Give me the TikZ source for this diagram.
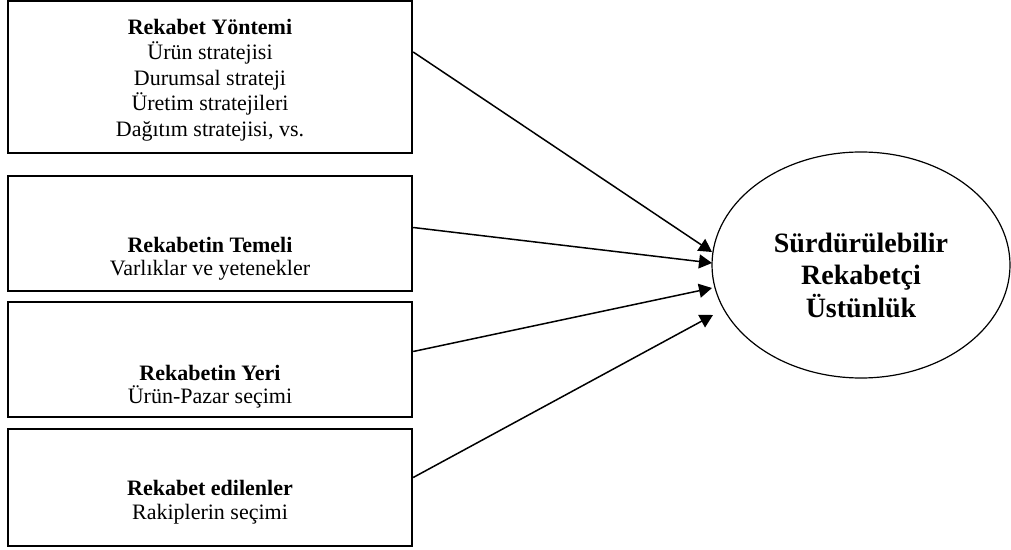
\documentclass[tikz,border=0pt]{standalone}
\usepackage{fontspec}
\setmainfont{Liberation Serif}
\usetikzlibrary{arrows.meta,shapes.geometric}

\begin{document}
\begin{tikzpicture}[x=0.5pt,y=-0.5pt,kutu/.style={draw,line width=1.2pt,rectangle,minimum
					width=202pt,inner sep=0pt},yazi/.style={align=center,inner
					sep=0pt,font=\fontsize{11}{12.75}\selectfont},hedef/.style={draw,line
					width=0.6pt,ellipse,minimum width=149pt,minimum height=113pt,inner
					sep=0pt},ok/.style={line width=0.75pt,-{Triangle[length=6.5pt,width=7pt]}}]
		\useasboundingbox (0,0) rectangle (1011,550);
		\node[kutu,minimum height=76pt] (k1) at (210,77) {};
		\node[kutu,minimum height=57.5pt] (k2) at (210,233.5) {};
		\node[kutu,minimum height=57.5pt] (k3) at (210,359.5) {};
		\node[kutu,minimum height=58.5pt] (k4) at (210,487.5) {};
		\node[yazi] (y1) at ([yshift=-1.5pt]k1.center) {\textbf{Rekabet Yöntemi}\\Ürün stratejisi\\Durumsal strateji\\Üretim
			stratejileri\\Dağıtım stratejisi, vs.};
		\node[yazi] (y2) at ([yshift=-12.5pt]k2.center) {\textbf{Rekabetin Temeli}\\[-1pt]Varlıklar ve yetenekler};
		\node[yazi] (y3) at ([yshift=-13.5pt]k3.center) {\textbf{Rekabetin Yeri}\\[-1pt]Ürün-Pazar seçimi};
		\node[yazi] (y4) at ([yshift=-7.25pt]k4.center) {\textbf{Rekabet edilenler}\\[-1pt]Rakiplerin seçimi};
		\node[hedef] (hd) at (861,265) {};
		\node[yazi,font=\fontsize{14}{16.25}\selectfont\bfseries] (hy) at ([yshift=-5pt]hd.center)
		{Sürdürülebilir\\Rekabetçi\\Üstünlük};
		\coordinate (u1) at (712,252);
		\coordinate (u2) at (712,263);
		\coordinate (u3) at (712,288);
		\coordinate (u4) at (713,315);
		\draw[ok] ([yshift=12.5pt]k1.east) -- (u1);
		\draw[ok] ([yshift=3pt]k2.east) -- (u2);
		\draw[ok] ([yshift=4pt]k3.east) -- (u3);
		\draw[ok] ([yshift=5pt]k4.east) -- (u4);
	\end{tikzpicture}
\end{document}
